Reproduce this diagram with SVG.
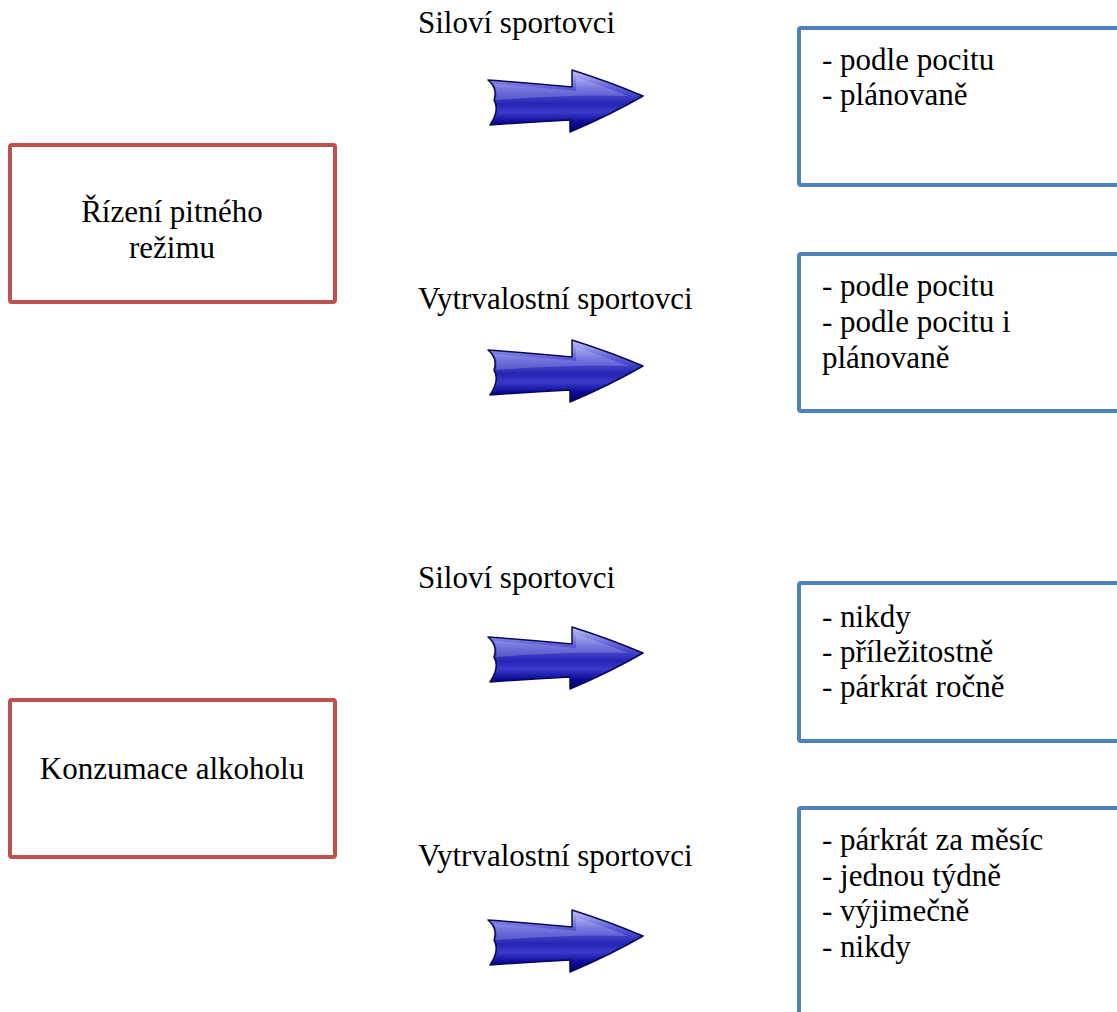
<svg xmlns="http://www.w3.org/2000/svg" xmlns:xlink="http://www.w3.org/1999/xlink" width="1117" height="1012" viewBox="0 0 1117 1012" font-family="Liberation Serif, DejaVu Serif, serif" font-size="31">
<style>
.red{fill:#fff;stroke:#c0504d;stroke-width:4}
.blue{fill:#fff;stroke:#4f81bd;stroke-width:4}
.mid{text-anchor:middle}
</style>
<defs>
<linearGradient id="ag" x1="0" y1="0" x2="0" y2="1">
<stop offset="0" stop-color="#c4c4f4"/>
<stop offset="0.3" stop-color="#5a5ad8"/>
<stop offset="0.55" stop-color="#2424b4"/>
<stop offset="0.68" stop-color="#3a3acc"/>
<stop offset="0.85" stop-color="#0a0a96"/>
<stop offset="1" stop-color="#000068"/>
</linearGradient>
<g id="arrow">
<path d="M0,10 Q42,13 84,17 L84,0 Q122,12 155,26 Q122,45 82,62 L82,50 Q42,52 2,55 Q12,40 6,30 Q10,18 0,10 Z" fill="url(#ag)" stroke="#0a0a50" stroke-width="1.5" stroke-linejoin="round"/>
<path d="M6,14 Q45,17 88,21 L88,7 Q118,17 140,26 Q90,24 8,30 Q10,20 6,14 Z" fill="#ffffff" fill-opacity="0.18"/>
</g>
</defs>
<g id="node-rizeni">
<rect class="red" x="10" y="145" width="325" height="157" rx="2"/>
<text class="mid" x="172" y="222" font-family="Liberation Serif, serif">Řízení pitného</text>
<text class="mid" x="172" y="258" font-family="Liberation Serif, serif">režimu</text>
</g>
<g id="node-konzumace">
<rect class="red" x="10" y="700" width="325" height="157" rx="2"/>
<text class="mid" x="172" y="779" font-family="Liberation Serif, serif">Konzumace alkoholu</text>
</g>
<g id="label-1"><text x="418" y="33" font-family="Liberation Serif, serif">Siloví sportovci</text></g>
<g id="label-2"><text x="418" y="309" font-family="Liberation Serif, serif">Vytrvalostní sportovci</text></g>
<g id="label-3"><text x="418" y="588" font-family="Liberation Serif, serif">Siloví sportovci</text></g>
<g id="label-4"><text x="418" y="866" font-family="Liberation Serif, serif">Vytrvalostní sportovci</text></g>
<g id="node-box1" font-family="Liberation Serif, serif">
<rect class="blue" x="799" y="28" width="340" height="157" rx="2"/>
<text x="822" y="70">- podle pocitu</text>
<text x="822" y="105">- plánovaně</text>
</g>
<g id="node-box2" font-family="Liberation Serif, serif">
<rect class="blue" x="799" y="254" width="340" height="157" rx="2"/>
<text x="822" y="296">- podle pocitu</text>
<text x="822" y="332">- podle pocitu i</text>
<text x="822" y="368">plánovaně</text>
</g>
<g id="node-box3" font-family="Liberation Serif, serif">
<rect class="blue" x="799" y="583" width="340" height="158" rx="2"/>
<text x="822" y="627">- nikdy</text>
<text x="822" y="662">- příležitostně</text>
<text x="822" y="697">- párkrát ročně</text>
</g>
<g id="node-box4" font-family="Liberation Serif, serif">
<rect class="blue" x="799" y="808" width="340" height="260" rx="2"/>
<text x="822" y="850">- párkrát za měsíc</text>
<text x="822" y="886">- jednou týdně</text>
<text x="822" y="921">- výjimečně</text>
<text x="822" y="957">- nikdy</text>
</g>
<g id="connectors">
<use xlink:href="#arrow" x="488" y="70"/>
<use xlink:href="#arrow" x="488" y="340"/>
<use xlink:href="#arrow" x="488" y="627"/>
<use xlink:href="#arrow" x="488" y="910"/>
</g>
</svg>
